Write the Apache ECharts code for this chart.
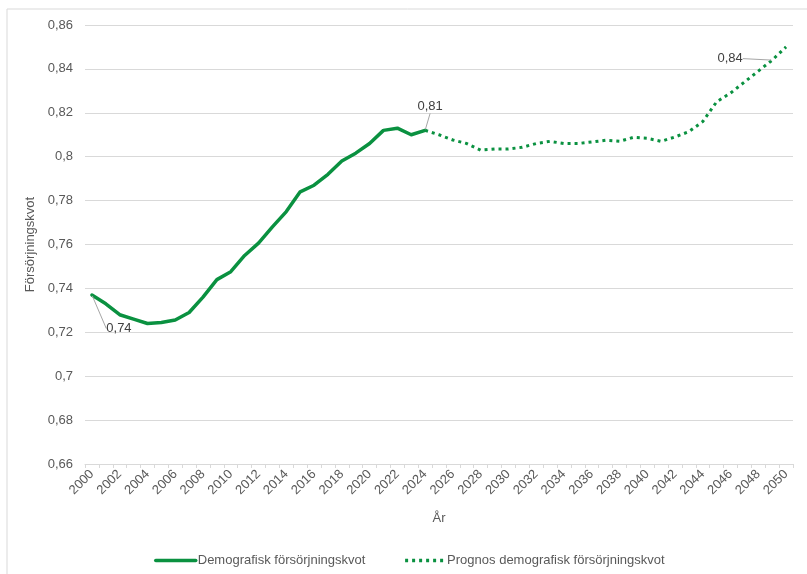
<!DOCTYPE html>
<html><head><meta charset="utf-8">
<script src="https://cdn.jsdelivr.net/npm/echarts@6/dist/echarts.min.js"></script>
<style>html,body{margin:0;padding:0;background:#fff}#c{width:807px;height:574px}</style>
</head><body><div id="c"></div>
<script>
const years = ['2000','2001','2002','2003','2004','2005','2006','2007','2008','2009',
  '2010','2011','2012','2013','2014','2015','2016','2017','2018','2019',
  '2020','2021','2022','2023','2024','2025','2026','2027','2028','2029',
  '2030','2031','2032','2033','2034','2035','2036','2037','2038','2039',
  '2040','2041','2042','2043','2044','2045','2046','2047','2048','2049','2050'];
// 2000-2024
const actualYears = years.slice(0, 25);
const actual = [0.737,0.733,0.728,0.726,0.724,0.7245,0.7256,0.729,0.736,0.744,
  0.7476,0.755,0.7606,0.768,0.775,0.784,0.787,0.792,0.798,0.8016,
  0.806,0.812,0.813,0.810,0.812];
// 2024-2050
const forecastYears = years.slice(24);
const forecast = [0.812,0.810,0.8076,0.806,0.803,0.8035,0.8035,0.8043,0.806,0.807,
  0.806,0.806,0.8067,0.8075,0.807,0.8088,0.8084,0.807,0.809,0.8114,
  0.816,0.825,0.829,0.834,0.839,0.844,0.850];
const yMin = 0.66, yMax = 0.86, yStep = 0.02;
const seriesNames = ['Demografisk försörjningskvot', 'Prognos demografisk försörjningskvot'];
const labelled = { '0-0': '0,74', '0-24': '0,81', '1-25': '0,84' };
const labelOffsets = { '0-0': [27, 46], '0-24': [5, -11], '1-25': [-42, 11] };

const FONT = "'Liberation Sans', Arial, sans-serif";
const GREEN = '#0a9140';

function buildData(ys, vs, si) {
  return vs.map((v, i) => {
    const key = si + '-' + i;
    const item = { value: [ys[i], v] };
    if (labelled[key]) {
      item.symbol = 'circle';
      item.symbolSize = 2;
      item.itemStyle = { opacity: 0 };
      item.label = { show: true, formatter: labelled[key] };
    }
    return item;
  });
}

const labelCommon = { position: 'top', distance: 5, fontFamily: FONT, fontSize: 13, color: '#404040', opacity: 1 };

const chart = echarts.init(document.getElementById('c'), null, { renderer: 'canvas' });
chart.setOption({
  animation: false,
  backgroundColor: '#fff',
  textStyle: { fontFamily: FONT },
  graphic: [{
    type: 'rect', shape: { x: 7, y: 9, width: 820, height: 600 },
    style: { fill: 'none', stroke: '#d9d9d9', lineWidth: 1 }, silent: true, z: -1
  }],
  grid: { left: 85, right: 14, top: 25, bottom: 110, containLabel: false },
  legend: {
    left: 149, top: 549, itemWidth: 40, itemHeight: 14, itemGap: 38,
    itemStyle: { opacity: 0 },
    lineStyle: { width: 3.5 },
    textStyle: { fontFamily: FONT, fontSize: 13, color: '#595959', padding: [0, 0, 0, -3] },
    data: seriesNames
  },
  xAxis: {
    type: 'category', data: years, boundaryGap: true,
    name: 'År', nameLocation: 'middle', nameGap: 48,
    nameTextStyle: { fontFamily: FONT, fontSize: 13, color: '#595959' },
    axisLine: { lineStyle: { color: '#d9d9d9', width: 1 } },
    axisTick: { show: true, interval: 0, length: 4, lineStyle: { color: '#d9d9d9' } },
    axisLabel: { interval: 1, rotate: 45, margin: 8, fontFamily: FONT, fontSize: 13, color: '#595959' },
    splitLine: { show: false }
  },
  yAxis: {
    type: 'value', min: yMin, max: yMax, interval: yStep,
    name: 'Försörjningskvot', nameLocation: 'middle', nameGap: 42,
    nameTextStyle: { fontFamily: FONT, fontSize: 13, color: '#595959' },
    axisLine: { show: false }, axisTick: { show: false },
    axisLabel: {
      margin: 12, fontFamily: FONT, fontSize: 13, color: '#595959',
      formatter: v => String(+v.toFixed(2)).replace('.', ',')
    },
    splitLine: { lineStyle: { color: '#d9d9d9', width: 1 } }
  },
  series: [
    {
      name: seriesNames[0], type: 'line', symbol: 'none', showAllSymbol: true, z: 3,
      data: buildData(actualYears, actual, 0),
      lineStyle: { color: GREEN, width: 3.5, cap: 'round', join: 'round' },
      itemStyle: { color: GREEN },
      label: labelCommon,
      labelLine: { show: true, lineStyle: { color: '#a6a6a6', width: 1, opacity: 1 } },
      labelLayout: p => { const o = labelOffsets['0-' + p.dataIndex]; return o ? { dx: o[0], dy: o[1] } : {}; }
    },
    {
      name: seriesNames[1], type: 'line', symbol: 'none', showAllSymbol: true, z: 2,
      data: buildData(forecastYears, forecast, 1),
      lineStyle: { color: GREEN, width: 3, type: [3, 4], cap: 'butt' },
      itemStyle: { color: GREEN },
      label: labelCommon,
      labelLine: { show: true, lineStyle: { color: '#a6a6a6', width: 1, opacity: 1 } },
      labelLayout: p => { const o = labelOffsets['1-' + p.dataIndex]; return o ? { dx: o[0], dy: o[1] } : {}; }
    }
  ]
});
</script></body></html>
